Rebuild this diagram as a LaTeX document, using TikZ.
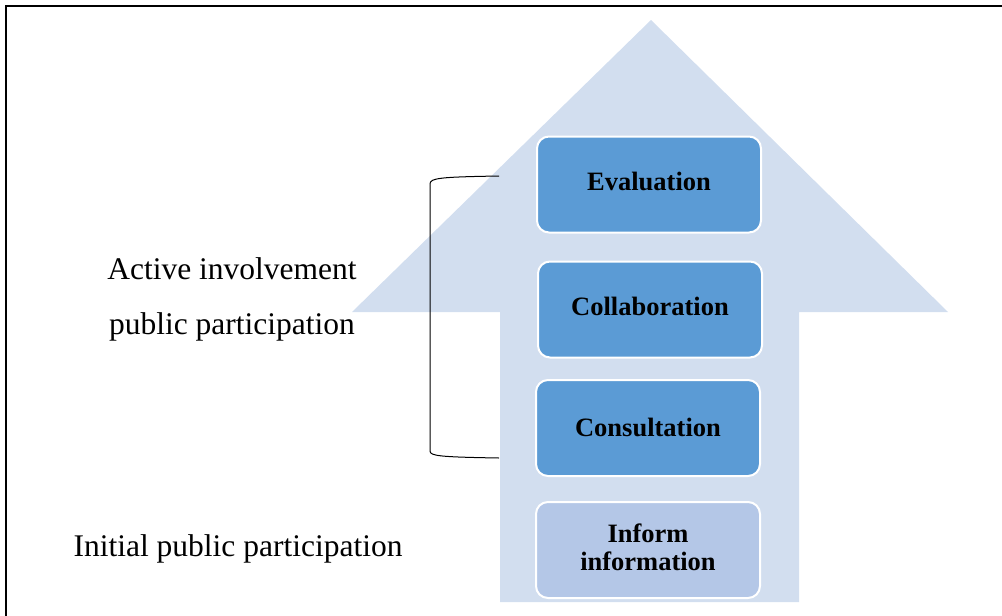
\documentclass[tikz,border=0pt]{standalone}
\usepackage{fontspec}
\setmainfont{Liberation Serif}
\definecolor{arrowblue}{HTML}{D2DEEF}
\definecolor{stepblue}{HTML}{5B9BD5}
\definecolor{stepgray}{HTML}{B4C7E7}
\tikzset{
  stage/.style={draw=white, line width=2pt, fill=stepblue, rounded corners=12pt,
    minimum width=224pt, minimum height=96pt, align=center, text depth=6pt,
    font=\fontsize{26.5}{28}\selectfont\bfseries},
  label/.style={font=\fontsize{31.5}{36}\selectfont, anchor=base}
}

\begin{document}
\begin{tikzpicture}[x=1pt,y=-1pt]
  \useasboundingbox (0,0) rectangle (1002,616);
  %Frame
  \draw[line width=2pt] (6,617) -- (6,6) -- (1003,6);

  %Big arrow
  \fill[arrowblue] (651,20) -- (948,312) -- (799,312) -- (799,602)
    -- (500,602) -- (500,312) -- (352,312) -- cycle;

  %Stages
  \node[stage] (eval) at (649,184.5) {Evaluation};
  \node[stage] (collab) at (650,309.5) {Collaboration};
  \node[stage, text depth=1pt] (consult) at (648,428) {Consultation};
  \node[stage, fill=stepgray] (inform) at (648,550) {Inform\\information};

  %Bracket
  \draw[line width=1pt] (499,176) .. controls (440,177) and (430,178) .. (430,184)
    -- (430,451) .. controls (430,456) and (440,457) .. (499,458);

  %Labels
  \node[label] (active) at (232,279) {Active involvement};
  \node[label] (public) at (232,334) {public participation};
  \node[label] (initial) at (238,556) {Initial public participation};
\end{tikzpicture}
\end{document}
